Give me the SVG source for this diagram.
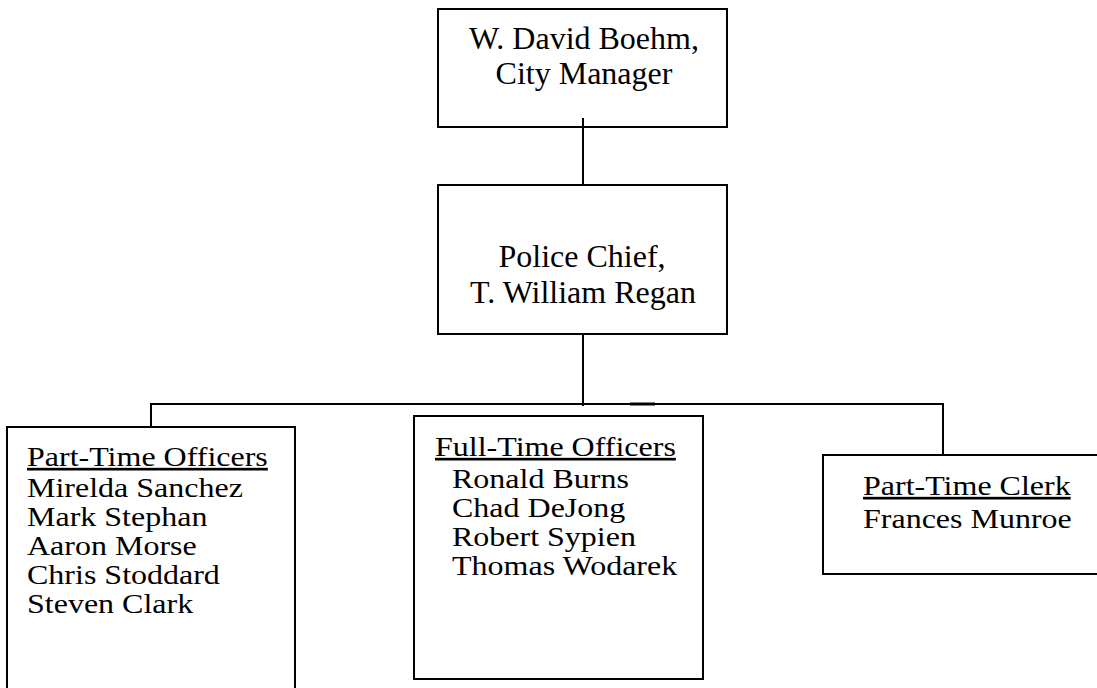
<svg xmlns="http://www.w3.org/2000/svg" width="1097" height="688" viewBox="0 0 1097 688">
<style>
.box{fill:#fff;stroke:#000;stroke-width:2}
.t{font-family:"Liberation Serif","Times New Roman",serif;font-size:32px;fill:#000}
.c{text-anchor:middle}
.u{text-decoration:underline}
.ln{stroke:#000;stroke-width:2;fill:none}
</style>
<rect width="1097" height="688" fill="#fff"/>
<g id="connectors">
<line class="ln" x1="583" y1="118" x2="583" y2="185"/>
<line class="ln" x1="583" y1="334" x2="583" y2="406"/>
<line class="ln" x1="151" y1="404" x2="943" y2="404"/>
<line x1="630" y1="404" x2="655" y2="404" stroke="#000" stroke-width="3"/>
<line class="ln" x1="151" y1="403" x2="151" y2="432"/>
<line class="ln" x1="943" y1="403" x2="943" y2="455"/>
</g>
<g id="city-manager">
<rect class="box" x="438" y="9" width="289" height="118"/>
<text class="t c" x="584" y="49">W. David Boehm,</text>
<text class="t c" x="584" y="84">City Manager</text>
</g>
<line class="ln" x1="583" y1="118" x2="583" y2="127"/>
<g id="police-chief">
<rect class="box" x="438" y="185" width="289" height="149"/>
<text class="t c" x="582" y="267">Police Chief,</text>
<text class="t c" x="583" y="303">T. William Regan</text>
</g>
<g id="part-time-officers">
<rect class="box" x="7" y="427" width="288" height="280"/>
<text class="t" transform="translate(27 466) scale(1 0.84)"><tspan class="u">Part-Time Officers</tspan></text>
<text class="t" transform="translate(27 497) scale(1 0.84)">Mirelda Sanchez</text>
<text class="t" transform="translate(27 526) scale(1 0.84)">Mark Stephan</text>
<text class="t" transform="translate(27 555) scale(1 0.84)">Aaron Morse</text>
<text class="t" transform="translate(27 584) scale(1 0.84)">Chris Stoddard</text>
<text class="t" transform="translate(27 613) scale(1 0.84)">Steven Clark</text>
</g>
<g id="full-time-officers">
<rect class="box" x="414" y="416" width="289" height="263"/>
<text class="t" transform="translate(435 456) scale(1 0.84)"><tspan class="u">Full-Time Officers</tspan></text>
<text class="t" transform="translate(452 488) scale(1 0.84)">Ronald Burns</text>
<text class="t" transform="translate(452 517) scale(1 0.84)">Chad DeJong</text>
<text class="t" transform="translate(452 546) scale(1 0.84)">Robert Sypien</text>
<text class="t" transform="translate(452 575) scale(1 0.84)">Thomas Wodarek</text>
</g>
<g id="part-time-clerk">
<rect class="box" x="823" y="455" width="290" height="119"/>
<text class="t" transform="translate(863 495) scale(1 0.84)"><tspan class="u">Part-Time Clerk</tspan></text>
<text class="t" transform="translate(863 528) scale(1 0.84)">Frances Munroe</text>
</g>
</svg>
